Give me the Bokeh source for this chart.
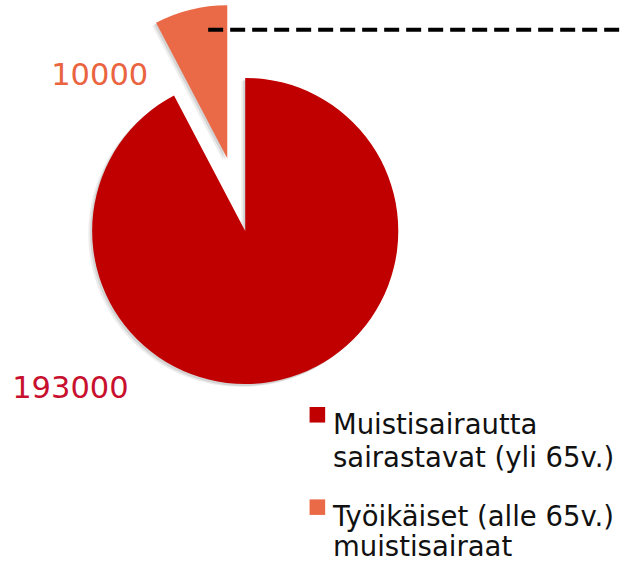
import math
from bokeh.plotting import figure
from bokeh.models import Range1d
from bokeh.core.properties import value
from bokeh.embed import file_html
from bokeh.resources import INLINE

# ---- data ----
categories = ["Muistisairautta\nsairastavat (yli 65v.)",
              "Työikäiset (alle 65v.)\nmuistisairaat"]
counts = [193000, 10000]
share_pct = [92.3, 7.7]          # slice sizes as drawn in the picture
slice_colors = ["#C00000", "#EA6A48"]
label_colors = ["#C8102E", "#E9643F"]

# ---- layout: data space = reference pixel space (639 x 581, y from top) ----
W, H = 623, 565
RW, RH = 639, 581
def Y(y_ref):
    return RH - y_ref

p = figure(width=W, height=H, output_backend="svg", toolbar_location=None,
           x_axis_type=None, y_axis_type=None,
           x_range=Range1d(0, RW), y_range=Range1d(0, RH),
           min_border=0, outline_line_color=None)
p.grid.visible = False
p.background_fill_color = "white"

cx, cy, R = 251, Y(237), 157
explode = [0, 77]
font = value("DejaVu Sans")

# the small slice starts at 12 o'clock and goes counter-clockwise,
# the big slice fills the rest
small_ang = 2 * math.pi * share_pct[1] / sum(share_pct)
top = math.pi / 2
angles = [(top + small_ang, top + 2 * math.pi), (top, top + small_ang)]

centers = []
for i, (a0, a1) in enumerate(angles):
    mid = (a0 + a1) / 2
    centers.append((cx + explode[i] * math.cos(mid), cy + explode[i] * math.sin(mid)))

# soft shadow
for off, alpha in [((-4, -3), 0.07), ((-2, -2), 0.10)]:
    for (a0, a1), (x0, y0) in zip(angles, centers):
        p.wedge(x=[x0 + off[0]], y=[y0 + off[1]], radius=R,
                start_angle=a0, end_angle=a1,
                fill_color="black", fill_alpha=alpha, line_color=None)

for (a0, a1), (x0, y0), col in zip(angles, centers, slice_colors):
    p.wedge(x=[x0], y=[y0], radius=R, start_angle=a0, end_angle=a1,
            fill_color=col, line_color=None)

# dashed line
p.line(x=[213, RW], y=[Y(30), Y(30)], line_color="black", line_width=4,
       line_dash="15 7")

# value labels
label_pos = [(12, Y(397)), (52, Y(76))]
for v, (lx, ly), col in zip(counts, label_pos, label_colors):
    p.text(x=[lx], y=[ly], text=[str(v)], text_font=font,
           text_font_size="30.5px", text_color=col,
           text_baseline="alphabetic", text_align="left")

# legend
legend_first_baseline = [435, 530]
line_step = [34, 31]
for cat, col, b0, st in zip(categories, slice_colors, legend_first_baseline, line_step):
    p.rect(x=[325], y=[Y(b0 - 9)], width=16, height=16,
           fill_color=col, line_color=None)
    for k, line in enumerate(cat.split("\n")):
        p.text(x=[341], y=[Y(b0 + k * st)], text=[line], text_font=font,
               text_font_size="27.5px", text_color="#111111",
               text_baseline="alphabetic", text_align="left")

open("out.html", "w").write(file_html(p, INLINE))
